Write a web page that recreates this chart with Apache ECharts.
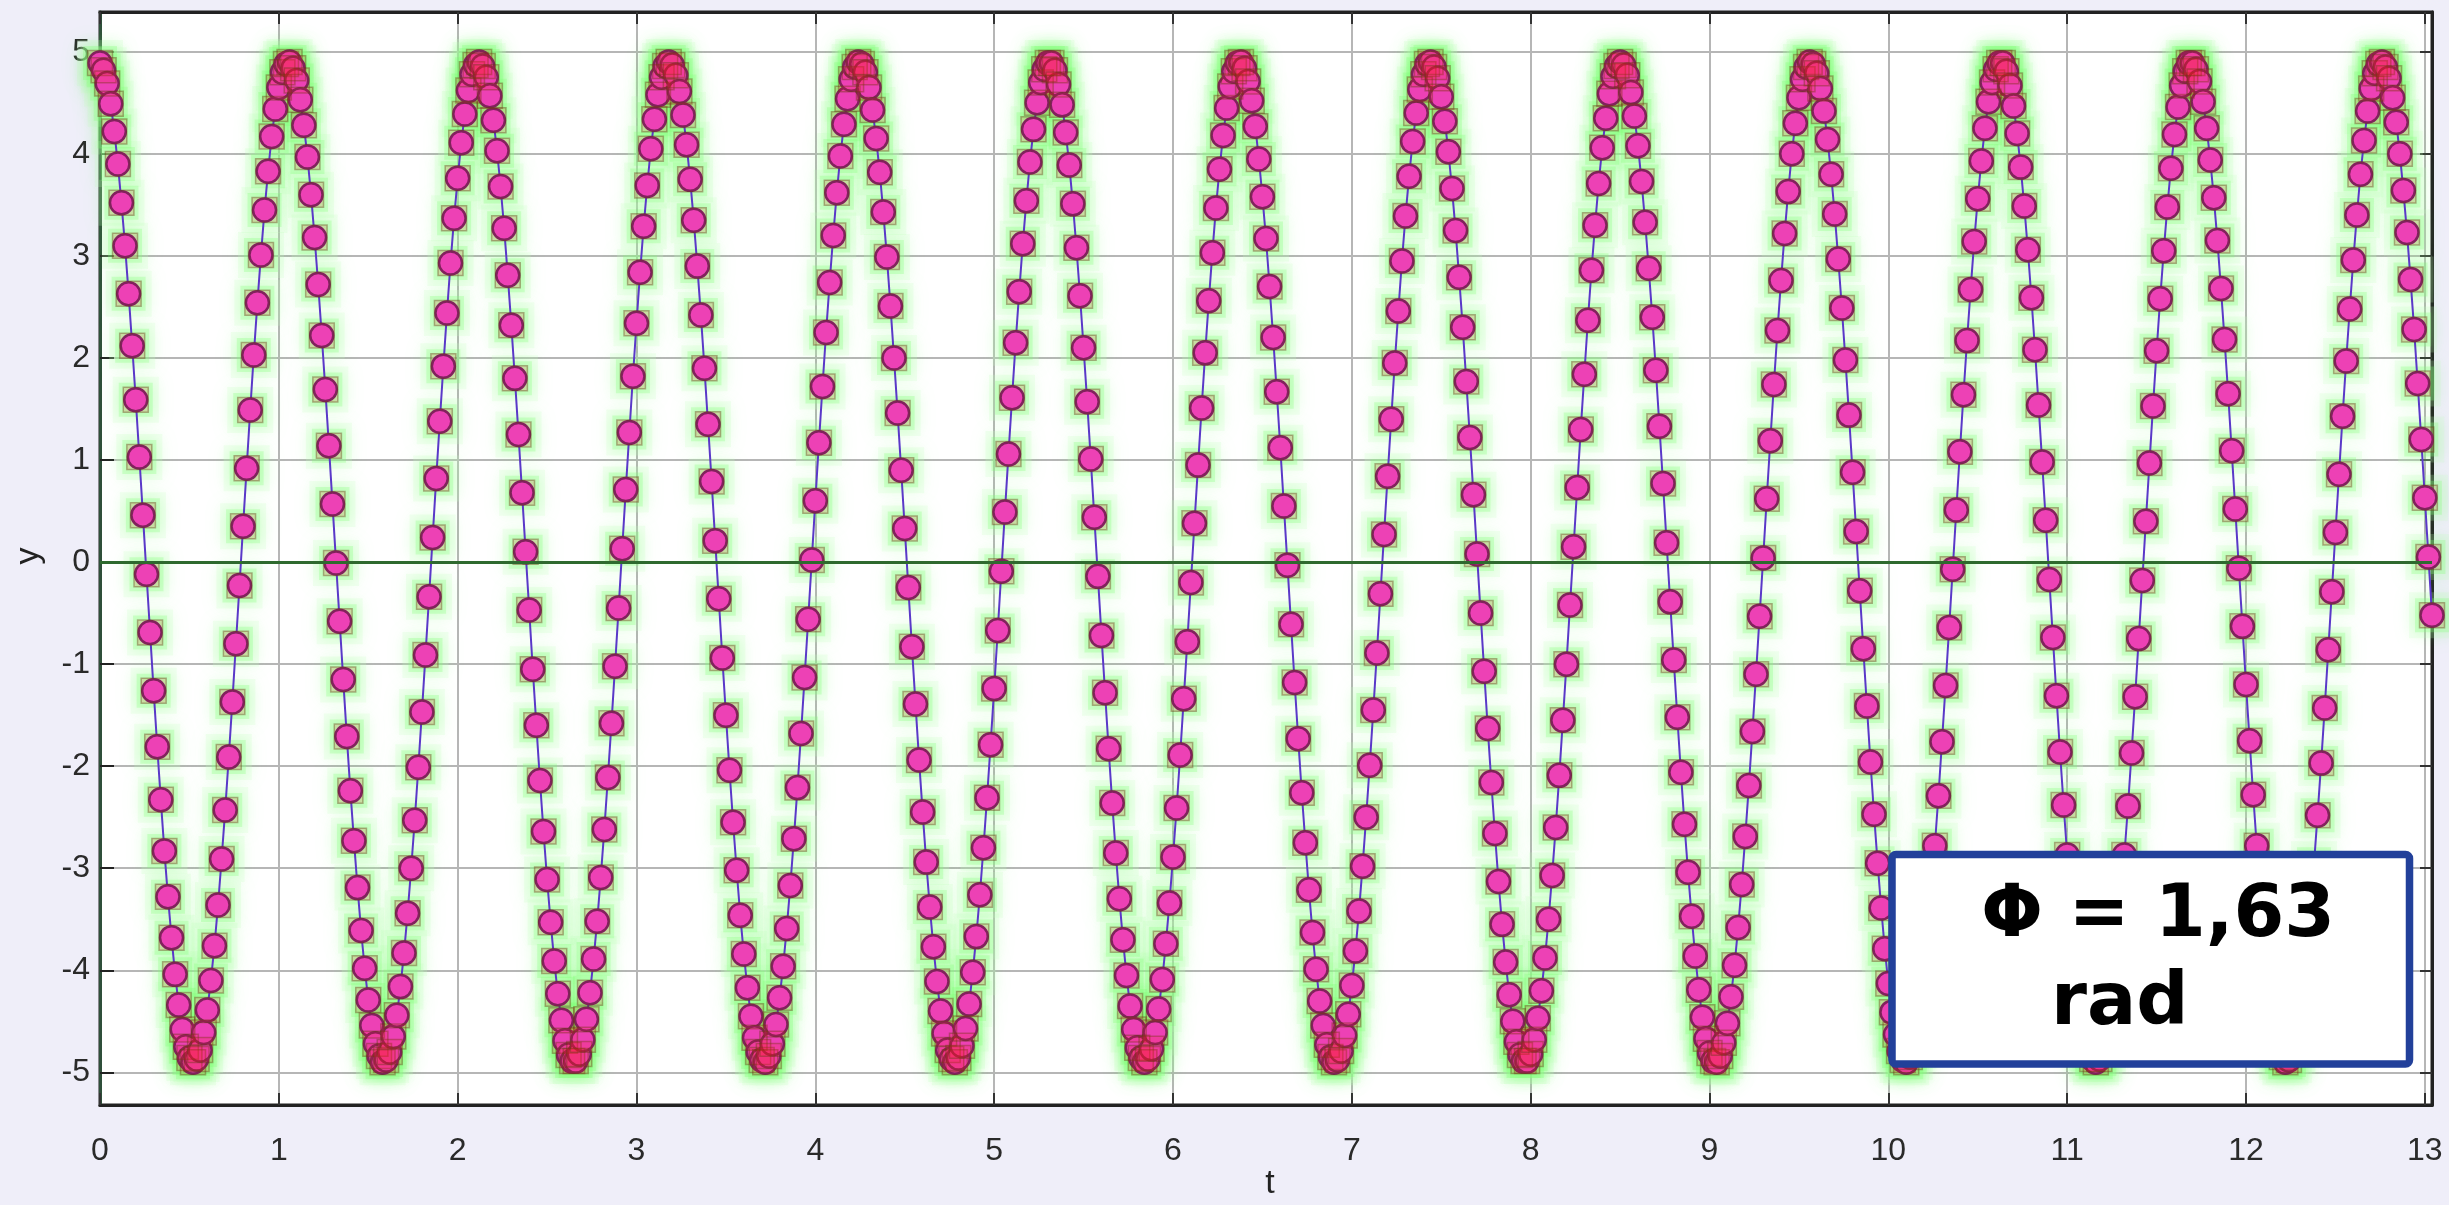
<!DOCTYPE html>
<html>
<head>
<meta charset="utf-8">
<script src="https://cdn.jsdelivr.net/npm/echarts@6/dist/echarts.min.js"></script>
<style>
html,body{margin:0;padding:0;background:#efeef9;}
#c{width:2449px;height:1205px;}
</style>
</head>
<body>
<div id="c"></div>
<script>
// sample times (s)
const tValues = [
0.00,0.02,0.04,0.06,0.08,0.10,0.12,0.14,0.16,0.18,0.20,0.22,0.24,0.26,0.28,0.30,0.32,0.34,0.36,0.38,0.40,0.42,0.44,0.46,0.48,0.50,0.52,0.54,0.56,0.58,0.60,0.62,0.64,0.66,0.68,0.70,0.72,0.74,0.76,0.78,0.80,0.82,0.84,0.86,0.88,0.90,0.92,0.94,0.96,0.98,
1.00,1.02,1.04,1.06,1.08,1.10,1.12,1.14,1.16,1.18,1.20,1.22,1.24,1.26,1.28,1.30,1.32,1.34,1.36,1.38,1.40,1.42,1.44,1.46,1.48,1.50,1.52,1.54,1.56,1.58,1.60,1.62,1.64,1.66,1.68,1.70,1.72,1.74,1.76,1.78,1.80,1.82,1.84,1.86,1.88,1.90,1.92,1.94,1.96,1.98,
2.00,2.02,2.04,2.06,2.08,2.10,2.12,2.14,2.16,2.18,2.20,2.22,2.24,2.26,2.28,2.30,2.32,2.34,2.36,2.38,2.40,2.42,2.44,2.46,2.48,2.50,2.52,2.54,2.56,2.58,2.60,2.62,2.64,2.66,2.68,2.70,2.72,2.74,2.76,2.78,2.80,2.82,2.84,2.86,2.88,2.90,2.92,2.94,2.96,2.98,
3.00,3.02,3.04,3.06,3.08,3.10,3.12,3.14,3.16,3.18,3.20,3.22,3.24,3.26,3.28,3.30,3.32,3.34,3.36,3.38,3.40,3.42,3.44,3.46,3.48,3.50,3.52,3.54,3.56,3.58,3.60,3.62,3.64,3.66,3.68,3.70,3.72,3.74,3.76,3.78,3.80,3.82,3.84,3.86,3.88,3.90,3.92,3.94,3.96,3.98,
4.00,4.02,4.04,4.06,4.08,4.10,4.12,4.14,4.16,4.18,4.20,4.22,4.24,4.26,4.28,4.30,4.32,4.34,4.36,4.38,4.40,4.42,4.44,4.46,4.48,4.50,4.52,4.54,4.56,4.58,4.60,4.62,4.64,4.66,4.68,4.70,4.72,4.74,4.76,4.78,4.80,4.82,4.84,4.86,4.88,4.90,4.92,4.94,4.96,4.98,
5.00,5.02,5.04,5.06,5.08,5.10,5.12,5.14,5.16,5.18,5.20,5.22,5.24,5.26,5.28,5.30,5.32,5.34,5.36,5.38,5.40,5.42,5.44,5.46,5.48,5.50,5.52,5.54,5.56,5.58,5.60,5.62,5.64,5.66,5.68,5.70,5.72,5.74,5.76,5.78,5.80,5.82,5.84,5.86,5.88,5.90,5.92,5.94,5.96,5.98,
6.00,6.02,6.04,6.06,6.08,6.10,6.12,6.14,6.16,6.18,6.20,6.22,6.24,6.26,6.28,6.30,6.32,6.34,6.36,6.38,6.40,6.42,6.44,6.46,6.48,6.50,6.52,6.54,6.56,6.58,6.60,6.62,6.64,6.66,6.68,6.70,6.72,6.74,6.76,6.78,6.80,6.82,6.84,6.86,6.88,6.90,6.92,6.94,6.96,6.98,
7.00,7.02,7.04,7.06,7.08,7.10,7.12,7.14,7.16,7.18,7.20,7.22,7.24,7.26,7.28,7.30,7.32,7.34,7.36,7.38,7.40,7.42,7.44,7.46,7.48,7.50,7.52,7.54,7.56,7.58,7.60,7.62,7.64,7.66,7.68,7.70,7.72,7.74,7.76,7.78,7.80,7.82,7.84,7.86,7.88,7.90,7.92,7.94,7.96,7.98,
8.00,8.02,8.04,8.06,8.08,8.10,8.12,8.14,8.16,8.18,8.20,8.22,8.24,8.26,8.28,8.30,8.32,8.34,8.36,8.38,8.40,8.42,8.44,8.46,8.48,8.50,8.52,8.54,8.56,8.58,8.60,8.62,8.64,8.66,8.68,8.70,8.72,8.74,8.76,8.78,8.80,8.82,8.84,8.86,8.88,8.90,8.92,8.94,8.96,8.98,
9.00,9.02,9.04,9.06,9.08,9.10,9.12,9.14,9.16,9.18,9.20,9.22,9.24,9.26,9.28,9.30,9.32,9.34,9.36,9.38,9.40,9.42,9.44,9.46,9.48,9.50,9.52,9.54,9.56,9.58,9.60,9.62,9.64,9.66,9.68,9.70,9.72,9.74,9.76,9.78,9.80,9.82,9.84,9.86,9.88,9.90,9.92,9.94,9.96,9.98,
10.00,10.02,10.04,10.06,10.08,10.10,10.12,10.14,10.16,10.18,10.20,10.22,10.24,10.26,10.28,10.30,10.32,10.34,10.36,10.38,10.40,10.42,10.44,10.46,10.48,10.50,10.52,10.54,10.56,10.58,10.60,10.62,10.64,10.66,10.68,10.70,10.72,10.74,10.76,10.78,10.80,10.82,10.84,10.86,10.88,10.90,10.92,10.94,10.96,10.98,
11.00,11.02,11.04,11.06,11.08,11.10,11.12,11.14,11.16,11.18,11.20,11.22,11.24,11.26,11.28,11.30,11.32,11.34,11.36,11.38,11.40,11.42,11.44,11.46,11.48,11.50,11.52,11.54,11.56,11.58,11.60,11.62,11.64,11.66,11.68,11.70,11.72,11.74,11.76,11.78,11.80,11.82,11.84,11.86,11.88,11.90,11.92,11.94,11.96,11.98,
12.00,12.02,12.04,12.06,12.08,12.10,12.12,12.14,12.16,12.18,12.20,12.22,12.24,12.26,12.28,12.30,12.32,12.34,12.36,12.38,12.40,12.42,12.44,12.46,12.48,12.50,12.52,12.54,12.56,12.58,12.60,12.62,12.64,12.66,12.68,12.70,12.72,12.74,12.76,12.78,12.80,12.82,12.84,12.86,12.88,12.90,12.92,12.94,12.96,12.98,
13.00,13.02,13.04
];

// measured signal y(t)
const yValues = [
4.89,4.82,4.69,4.49,4.22,3.90,3.52,3.10,2.63,2.12,1.59,1.03,0.46,-0.12,-0.69,-1.26,-1.81,-2.33,-2.83,-3.28,-3.68,-4.04,-4.34,-4.58,-4.75,-4.86,-4.90,-4.87,-4.78,-4.61,-4.39,-4.10,-3.76,-3.36,-2.91,-2.43,-1.91,-1.37,-0.80,-0.23,0.35,0.92,1.49,2.03,2.54,3.01,3.45,3.83,4.17,4.44,4.65,4.80,4.88,
4.90,4.84,4.72,4.53,4.28,3.97,3.60,3.18,2.72,2.22,1.69,1.14,0.57,-0.01,-0.58,-1.15,-1.71,-2.24,-2.73,-3.19,-3.61,-3.98,-4.29,-4.54,-4.72,-4.84,-4.90,-4.88,-4.80,-4.65,-4.44,-4.16,-3.83,-3.44,-3.00,-2.53,-2.01,-1.47,-0.91,-0.34,0.24,0.82,1.38,1.92,2.44,2.93,3.37,3.76,4.11,4.39,4.62,4.78,4.87,
4.90,4.86,4.75,4.57,4.33,4.03,3.68,3.27,2.81,2.32,1.80,1.25,0.68,0.10,-0.47,-1.05,-1.60,-2.14,-2.64,-3.11,-3.53,-3.91,-4.23,-4.49,-4.69,-4.83,-4.89,-4.89,-4.82,-4.68,-4.48,-4.22,-3.89,-3.52,-3.09,-2.62,-2.11,-1.58,-1.02,-0.45,0.13,0.71,1.27,1.82,2.34,2.84,3.29,3.69,4.05,4.34,4.58,4.75,4.86,
4.90,4.87,4.77,4.61,4.38,4.09,3.75,3.35,2.90,2.42,1.90,1.35,0.79,0.21,-0.36,-0.94,-1.50,-2.04,-2.55,-3.02,-3.46,-3.84,-4.17,-4.45,-4.66,-4.80,-4.88,-4.90,-4.84,-4.72,-4.53,-4.27,-3.96,-3.59,-3.17,-2.71,-2.21,-1.68,-1.13,-0.56,0.02,0.60,1.17,1.72,2.25,2.74,3.20,3.62,3.98,4.29,4.54,4.73,4.85,
4.90,4.88,4.80,4.65,4.43,4.15,3.82,3.43,2.99,2.51,2.00,1.46,0.90,0.33,-0.25,-0.83,-1.39,-1.94,-2.45,-2.94,-3.38,-3.77,-4.11,-4.40,-4.62,-4.78,-4.87,-4.90,-4.86,-4.74,-4.57,-4.33,-4.02,-3.67,-3.26,-2.80,-2.31,-1.79,-1.24,-0.67,-0.09,0.49,1.06,1.61,2.15,2.65,3.12,3.54,3.92,4.24,4.50,4.70,4.83,
4.89,4.89,4.82,4.68,4.48,4.21,3.89,3.51,3.08,2.61,2.10,1.57,1.01,0.44,-0.14,-0.72,-1.28,-1.83,-2.36,-2.85,-3.30,-3.70,-4.05,-4.35,-4.58,-4.76,-4.86,-4.90,-4.87,-4.77,-4.61,-4.38,-4.09,-3.74,-3.34,-2.89,-2.41,-1.89,-1.34,-0.78,-0.20,0.38,0.95,1.51,2.05,2.56,3.03,3.47,3.85,4.18,4.45,4.66,4.81,
4.89,4.90,4.84,4.71,4.52,4.27,3.95,3.58,3.17,2.70,2.20,1.67,1.12,0.55,-0.03,-0.61,-1.18,-1.73,-2.26,-2.75,-3.21,-3.63,-3.99,-4.30,-4.54,-4.73,-4.85,-4.90,-4.88,-4.79,-4.64,-4.43,-4.15,-3.81,-3.42,-2.98,-2.50,-1.99,-1.45,-0.89,-0.31,0.27,0.84,1.40,1.95,2.46,2.95,3.39,3.78,4.12,4.40,4.63,4.78,
4.88,4.90,4.85,4.74,4.56,4.32,4.02,3.66,3.25,2.79,2.30,1.77,1.22,0.66,0.08,-0.50,-1.07,-1.63,-2.16,-2.66,-3.13,-3.55,-3.92,-4.24,-4.50,-4.70,-4.83,-4.89,-4.89,-4.82,-4.68,-4.47,-4.20,-3.88,-3.50,-3.07,-2.60,-2.09,-1.55,-1.00,-0.42,0.15,0.73,1.30,1.84,2.37,2.86,3.30,3.71,4.06,4.35,4.59,4.76,
4.86,4.90,4.87,4.77,4.60,4.37,4.08,3.73,3.33,2.88,2.40,1.88,1.33,0.77,0.19,-0.39,-0.96,-1.52,-2.06,-2.57,-3.04,-3.47,-3.86,-4.19,-4.46,-4.67,-4.81,-4.89,-4.90,-4.84,-4.71,-4.52,-4.26,-3.95,-3.58,-3.16,-2.69,-2.19,-1.66,-1.10,-0.53,0.04,0.62,1.19,1.74,2.27,2.76,3.22,3.63,4.00,4.30,4.55,4.73,
4.85,4.90,4.88,4.79,4.64,4.42,4.14,3.80,3.41,2.97,2.49,1.98,1.44,0.88,0.30,-0.28,-0.85,-1.41,-1.96,-2.47,-2.95,-3.39,-3.79,-4.13,-4.41,-4.63,-4.79,-4.88,-4.90,-4.85,-4.74,-4.56,-4.31,-4.01,-3.65,-3.24,-2.78,-2.29,-1.76,-1.21,-0.64,-0.07,0.51,1.08,1.64,2.17,2.67,3.14,3.56,3.93,4.25,4.51,4.70,
4.83,4.89,4.89,4.81,4.67,4.47,4.20,3.87,3.49,3.06,2.59,2.08,1.54,0.98,0.41,-0.17,-0.74,-1.31,-1.86,-2.38,-2.87,-3.31,-3.72,-4.07,-4.36,-4.59,-4.76,-4.87,-4.90,-4.87,-4.77,-4.60,-4.37,-4.07,-3.72,-3.32,-2.87,-2.39,-1.87,-1.32,-0.75,-0.18,0.40,0.97,1.53,2.07,2.58,3.05,3.48,3.86,4.19,4.46,4.67,
4.81,4.89,4.89,4.83,4.71,4.51,4.25,3.94,3.57,3.15,2.68,2.18,1.65,1.09,0.52,-0.06,-0.63,-1.20,-1.75,-2.28,-2.78,-3.23,-3.64,-4.00,-4.31,-4.55,-4.74,-4.85,-4.90,-4.88,-4.79,-4.63,-4.41,-4.13,-3.79,-3.40,-2.96,-2.48,-1.97,-1.43,-0.86,-0.29,0.29,0.86,1.43,1.97,2.48,2.96,3.40,3.80,4.13,4.42,4.64,
4.79,4.88,4.90,4.85,4.74,4.55,4.31,4.00,3.64,3.23,2.77,2.28,1.75,1.20,0.63,0.05,-0.52
];

const xTickValues = [0,1,2,3,4,5,6,7,8,9,10,11,12,13];
const yTickValues = [-5,-4,-3,-2,-1,0,1,2,3,4,5];
const xAxisName = 't';
const yAxisName = 'y';
const annotationLines = ['\u03A6 = 1,63', 'rad'];

const points = tValues.map((t, i) => [t, yValues[i]]);

const chart = echarts.init(document.getElementById('c'), null, {renderer: 'canvas'});

const labelFont = {fontSize: 32, color: '#2a2a2a', fontFamily: 'Liberation Sans'};

chart.setOption({
  animation: false,
  backgroundColor: '#efeef9',
  grid: {
    left: 100, right: 17, top: 12, bottom: 100,
    show: true, backgroundColor: '#ffffff', borderColor: '#222', borderWidth: 3,
    containLabel: false
  },
  xAxis: [{
    type: 'value', min: 0, max: 13.04, splitNumber: 13, position: 'bottom',
    axisLine: {show: true, onZero: false, lineStyle: {color: '#222', width: 3}},
    axisTick: {show: true, inside: true, length: 12, customValues: xTickValues, lineStyle: {color: '#333', width: 2}},
    axisLabel: Object.assign({customValues: xTickValues, margin: 30}, labelFont),
    splitLine: {show: true, lineStyle: {color: '#b6b6b6', width: 2}}
  }, {
    type: 'value', min: 0, max: 13.04, splitNumber: 13, position: 'top',
    axisLine: {show: true, onZero: false, lineStyle: {color: '#222', width: 3}},
    axisTick: {show: true, inside: true, length: 12, customValues: xTickValues, lineStyle: {color: '#333', width: 2}},
    axisLabel: {show: false},
    splitLine: {show: false}
  }],
  yAxis: [{
    type: 'value', min: -5.32, max: 5.39, splitNumber: 10, position: 'left',
    axisLine: {show: true, onZero: false, lineStyle: {color: '#2f4f3a', width: 3}},
    axisTick: {show: true, inside: true, length: 14, customValues: yTickValues, lineStyle: {color: '#222', width: 2}},
    axisLabel: Object.assign({customValues: yTickValues, margin: 10}, labelFont),
    splitLine: {show: true, lineStyle: {color: '#b6b6b6', width: 2}}
  }, {
    type: 'value', min: -5.32, max: 5.39, splitNumber: 10, position: 'right',
    axisLine: {show: true, onZero: false, lineStyle: {color: '#222', width: 3}},
    axisTick: {show: true, inside: true, length: 12, customValues: yTickValues, lineStyle: {color: '#333', width: 2}},
    axisLabel: {show: false},
    splitLine: {show: false}
  }],
  series: [{
    name: 'halo', type: 'scatter', data: points, xAxisIndex: 0, yAxisIndex: 0,
    symbol: 'rect', symbolSize: 46, z: 1, silent: true,
    itemStyle: {color: 'rgba(200,255,195,0.25)', shadowBlur: 18, shadowColor: 'rgba(140,255,130,0.5)'}
  }, {
    name: 'glow', type: 'scatter', data: points, xAxisIndex: 0, yAxisIndex: 0,
    symbol: 'rect', symbolSize: 34, z: 2, silent: true,
    itemStyle: {color: 'rgba(130,255,120,0.35)', shadowBlur: 14, shadowColor: 'rgba(90,255,80,0.7)'},
    markLine: {
      silent: true, symbol: ['none', 'none'], label: {show: false},
      lineStyle: {color: '#2e6a2e', width: 3, type: 'solid'},
      data: [{yAxis: 0}]
    }
  }, {
    name: 'y', type: 'line', data: points, xAxisIndex: 0, yAxisIndex: 0,
    symbol: 'circle', symbolSize: 23, showAllSymbol: true, z: 3, silent: true,
    itemStyle: {color: '#ea48d0', borderColor: '#6b2468', borderWidth: 2.5},
    lineStyle: {color: '#5a38c8', width: 2}
  }, {
    name: 'square', type: 'scatter', data: points, xAxisIndex: 0, yAxisIndex: 0,
    symbol: 'rect', symbolSize: 25, z: 4, silent: true,
    itemStyle: {color: 'rgba(255,25,25,0.19)', borderColor: 'rgba(100,60,20,0.5)', borderWidth: 1.5}
  }],
  graphic: [{
    type: 'rect', z: 100,
    shape: {x: 1892, y: 854.5, width: 517.5, height: 209.5, r: 4},
    style: {fill: '#ffffff', stroke: '#22409a', lineWidth: 7.5}
  }, {
    type: 'text', z: 101, x: 1981, y: 917,
    style: {text: annotationLines[0], fontSize: 73, fontWeight: 'bold', fontFamily: 'DejaVu Sans', fill: '#000', align: 'left', verticalAlign: 'middle'}
  }, {
    type: 'text', z: 101, x: 2051, y: 1005,
    style: {text: annotationLines[1], fontSize: 73, fontWeight: 'bold', fontFamily: 'DejaVu Sans', fill: '#000', align: 'left', verticalAlign: 'middle'}
  }, {
    type: 'text', z: 101, x: 29, y: 556, rotation: Math.PI / 2,
    style: {text: yAxisName, fontSize: 34, fontFamily: 'Liberation Sans', fill: '#222', align: 'center', verticalAlign: 'middle'}
  }, {
    type: 'text', z: 101, x: 1270, y: 1184,
    style: {text: xAxisName, fontSize: 34, fontFamily: 'Liberation Sans', fill: '#222', align: 'center', verticalAlign: 'middle'}
  }]
});
</script>
</body>
</html>
